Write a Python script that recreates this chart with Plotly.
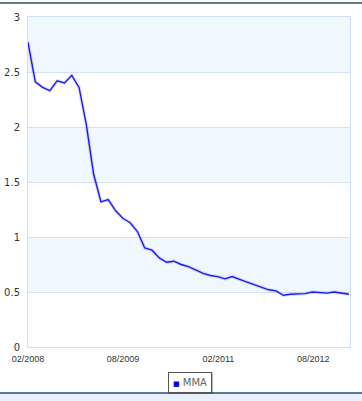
import plotly.graph_objects as go
import pandas as pd

series_name = "MMA"
dates = pd.date_range("2008-02-01", periods=45, freq="42D")
values = [2.77, 2.41, 2.36, 2.33, 2.42, 2.40, 2.47, 2.36, 2.02, 1.57,
          1.32, 1.34, 1.24, 1.17, 1.13, 1.05, 0.90, 0.88, 0.81, 0.77,
          0.78, 0.75, 0.73, 0.70, 0.67, 0.65, 0.64, 0.62, 0.64, 0.615,
          0.59, 0.565, 0.54, 0.52, 0.51, 0.47, 0.48, 0.48, 0.485, 0.50,
          0.495, 0.49, 0.50, 0.49, 0.48]
x_tick_vals = ["2008-02-01", "2009-08-01", "2011-02-01", "2012-08-01"]
x_tick_text = ["02/2008", "08/2009", "02/2011", "08/2012"]
y_ticks = [0, 0.5, 1, 1.5, 2, 2.5, 3]
x_end = "2013-02-28"

fig = go.Figure()
fig.add_trace(go.Scatter(x=dates, y=values, mode="lines",
                         line=dict(color="rgba(0,0,0,0.12)", width=3.5),
                         hoverinfo="skip", showlegend=False))
fig.add_trace(go.Scatter(x=dates, y=values, mode="lines", name=series_name,
                         line=dict(color="#1a1aff", width=1.4), showlegend=False))

shapes = []
# alternating bands
for i in range(len(y_ticks) - 1):
    if (len(y_ticks) - 2 - i) % 2 == 0:
        shapes.append(dict(type="rect", xref="paper", yref="y", x0=0, x1=1,
                           y0=y_ticks[i], y1=y_ticks[i + 1],
                           fillcolor="#f0f7fe", line=dict(width=0), layer="below"))
# top dark line
shapes.append(dict(type="line", xref="paper", yref="paper", x0=-0.1, x1=1.1,
                   y0=1.0424, y1=1.0424, line=dict(color="#24506e", width=1.5)))
# bottom band
shapes.append(dict(type="rect", xref="paper", yref="paper", x0=-0.1, x1=1.1,
                   y0=-0.1394, y1=-0.2, fillcolor="#e8f0fb",
                   line=dict(width=0)))
shapes.append(dict(type="line", xref="paper", yref="paper", x0=-0.1, x1=1.1,
                   y0=-0.1394, y1=-0.1394, line=dict(color="#24506e", width=1.5)))
# legend shadow
shapes.append(dict(type="rect", xref="paper", yref="paper", x0=0.435, x1=0.575,
                   y0=-0.078, y1=-0.142, fillcolor="rgba(0,0,0,0.25)",
                   line=dict(width=0)))

fig.update_layout(
    width=362, height=401,
    margin=dict(l=28, r=12, t=17, b=54),
    paper_bgcolor="white", plot_bgcolor="white",
    shapes=shapes,
    xaxis=dict(type="date", range=[dates[0], x_end], tickvals=x_tick_vals,
               ticktext=x_tick_text, showgrid=False, zeroline=False,
               showline=True, mirror=True, linecolor="#cfdff7", linewidth=1,
               ticks="", automargin=False, ticklabelstandoff=3,
               tickfont=dict(family="Liberation Sans, Arial", size=9, color="#333")),
    yaxis=dict(range=[0, 3], tickvals=y_ticks, ticktext=[f"{v:g}" for v in y_ticks],
               showgrid=True, gridcolor="#d3e2f8", gridwidth=1, zeroline=False,
               showline=True, mirror=True, linecolor="#cfdff7", linewidth=1,
               ticks="", ticklabelstandoff=5, automargin=False,
               tickfont=dict(family="DejaVu Sans, Verdana", size=10, color="#333")),
    annotations=[dict(xref="paper", yref="paper", x=0.5016, y=-0.109,
                      xanchor="center", yanchor="middle", showarrow=False,
                      text="<span style='color:#0000ff;font-size:7px'>■</span> " + series_name,
                      font=dict(family="DejaVu Sans, Verdana", size=10, color="#666"),
                      bgcolor="white", bordercolor="#555", borderwidth=1, borderpad=4)],
)

fig.write_html("out.html", config={"displayModeBar": False},
               post_script="document.body.style.margin='0';document.body.style.overflow='hidden';")
